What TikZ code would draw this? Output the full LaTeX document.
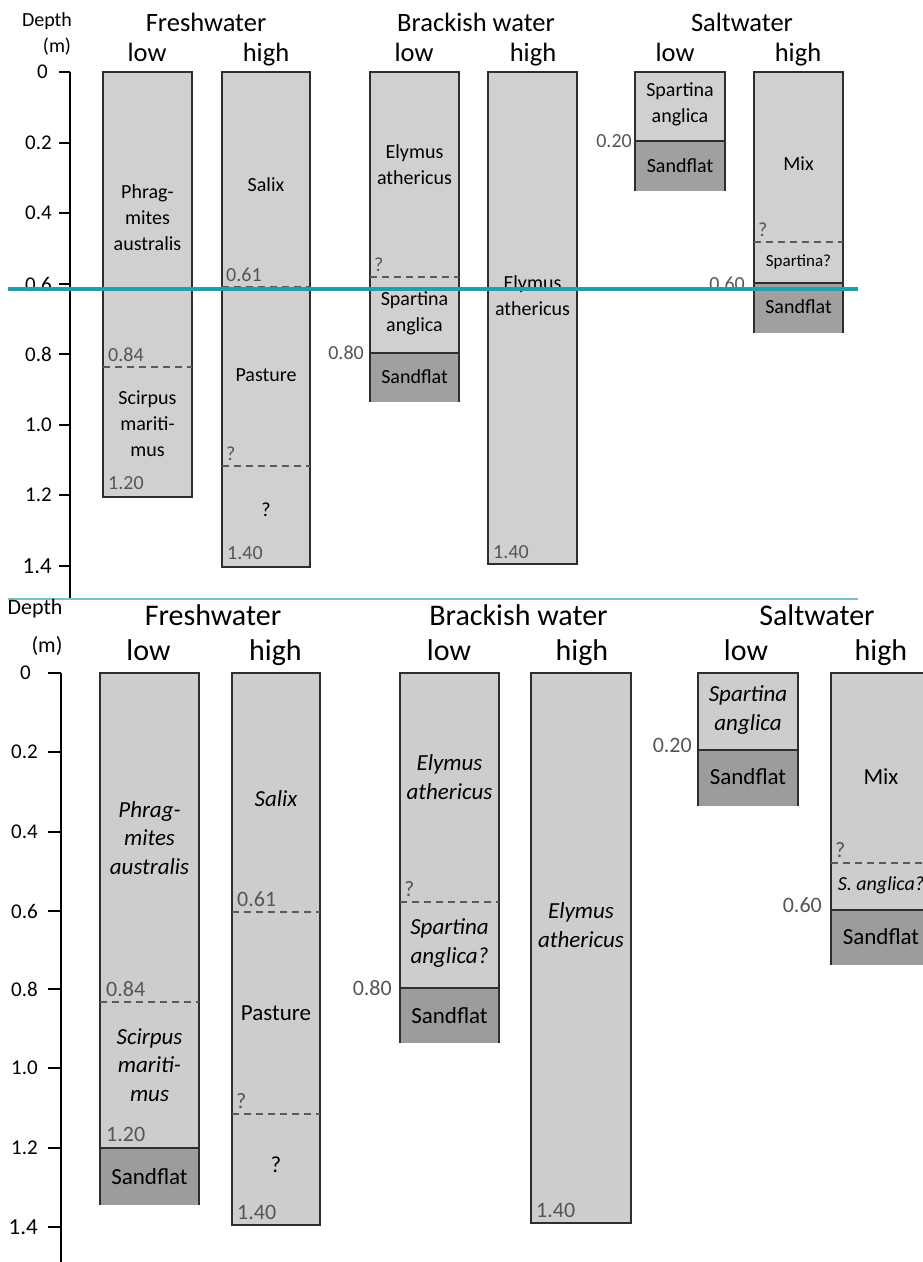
\documentclass[tikz,border=0pt]{standalone}
\usepackage{fontspec}
\setmainfont{Carlito}
\definecolor{lightfill}{HTML}{D0D0D0}
\definecolor{sandfill}{HTML}{A0A0A0}
\definecolor{lightfillb}{HTML}{CDCDCD}
\definecolor{sandfillb}{HTML}{9C9C9C}
\definecolor{boxline}{HTML}{2E2E2E}
\definecolor{dashgray}{HTML}{5A5A5A}
\definecolor{numgray}{HTML}{555555}
\definecolor{tealdark}{HTML}{1FA0AB}
\definecolor{teallight}{HTML}{74C3CB}
\tikzset{
  box/.style={draw=boxline, line width=1.5pt, fill=lightfill},
  boxb/.style={draw=boxline, line width=1.5pt, fill=lightfillb},
  edge/.style={draw=boxline, line width=1.5pt},
  dashln/.style={draw=dashgray, line width=1.2pt, dash pattern=on 7pt off 5pt},
  axisln/.style={draw=black, line width=2pt},
  sp/.style={align=center, inner sep=0pt, font=\fontsize{20}{26}\selectfont},
  spsmall/.style={align=center, inner sep=0pt, font=\fontsize{17}{20}\selectfont},
  spb/.style={align=center, inner sep=0pt, font=\fontsize{23}{28.5}\selectfont\itshape},
  spbup/.style={align=center, inner sep=0pt, font=\fontsize{23}{28.5}\selectfont},
  spbsmall/.style={align=center, inner sep=0pt, font=\fontsize{20}{24}\selectfont\itshape},
  num/.style={inner sep=0pt, text=numgray, font=\fontsize{20}{24}\selectfont},
  numb/.style={inner sep=0pt, text=numgray, font=\fontsize{22}{26}\selectfont},
  tick/.style={inner sep=0pt, font=\fontsize{21}{24}\selectfont},
  hdr/.style={inner sep=0pt, font=\fontsize{26.5}{30}\selectfont},
  hdrb/.style={inner sep=0pt, font=\fontsize{30}{34}\selectfont},
  dep/.style={inner sep=0pt, font=\fontsize{20}{24}\selectfont},
  depb/.style={inner sep=0pt, font=\fontsize{22}{26}\selectfont},
}
\begin{document}
\begin{tikzpicture}[x=1pt,y=-1pt]
\clip (0,0) rectangle (923,1262);
\fill[white] (0,0) rectangle (923,1262);

%================ TOP PANEL ================
% headers
\node[dep,anchor=base] (tdepth) at (47,26) {Depth};
\node[dep,anchor=base] (tm) at (57,52.5) {(m)};
\node[hdr,anchor=base] (tfw) at (206,31.5) {Freshwater};
\node[hdr,anchor=base] (tfwl) at (147,61.5) {low};
\node[hdr,anchor=base] (tfwh) at (266,61.5) {high};
\node[hdr,anchor=base] (tbw) at (476,31.5) {Brackish water};
\node[hdr,anchor=base] (tbwl) at (414,61.5) {low};
\node[hdr,anchor=base] (tbwh) at (533,61.5) {high};
\node[hdr,anchor=base] (tsw) at (742,31.5) {Saltwater};
\node[hdr,anchor=base] (tswl) at (675,61.5) {low};
\node[hdr,anchor=base] (tswh) at (798,61.5) {high};

% axis
\draw[axisln] (70,72) -- (70,600);
\foreach \y/\t/\xx [count=\i] in {72/0/48,143/0.2/52,213/0.4/52,284/0.6/52,354/0.8/52,425/1.0/52,495/1.2/52}{
  \draw[axisln] (59,\y) -- (70,\y);
  \node[tick,anchor=east] (tt\i) at (\xx,\y) {\t};
}
\draw[axisln] (59,566) -- (70,566);
\node[tick,anchor=east,font=\fontsize{23}{26}\selectfont] (tt8) at (52,566) {1.4};

% Freshwater low
\draw[box] (103,72) rectangle (192,497);
\draw[dashln] (103,367) -- (192,367);
\node[sp] (tfwl1) at (147.5,218) {Phrag-\\mites\\australis};
\node[sp] (tfwl2) at (147.5,424) {Scirpus\\mariti-\\mus};
\node[num,anchor=base west] (tn084) at (108,361) {0.84};
\node[num,anchor=base west] (tn120) at (108,489) {1.20};

% Freshwater high
\draw[box] (222,72) rectangle (310,567);
\draw[dashln] (222,287) -- (310,287);
\draw[dashln] (222,466) -- (310,466);
\node[sp] (tfwh1) at (266,185) {Salix};
\node[sp] (tfwh2) at (266,375) {Pasture};
\node[sp] (tfwh3) at (266,510) {?};
\node[num,anchor=base west] (tn061) at (226,281) {0.61};
\node[num,anchor=base west] (tq1) at (226,460) {?};
\node[num,anchor=base west] (tn140a) at (227,559) {1.40};

% Brackish low
\draw[box] (370,72) rectangle (459,353);
\fill[sandfill] (370,353) rectangle (459,402);
\draw[edge] (370,402) -- (370,353) -- (459,353) -- (459,402);
\draw[dashln] (370,277) -- (459,277);
\node[sp] (tbwl1) at (414.5,165) {Elymus\\athericus};
\node[sp] (tbwl2) at (414.5,313) {Spartina\\anglica};
\node[sp] (tbwl3) at (414.5,377) {Sandflat};
\node[num,anchor=base west] (tq2) at (374,271) {?};
\node[num,anchor=east] (tn080) at (364,353) {0.80};

% Brackish high
\draw[box] (488,72) rectangle (577,564);
\node[sp] (tbwh1) at (532.5,296) {Elymus\\athericus};
\node[num,anchor=base west] (tn140b) at (493,558) {1.40};

% Saltwater low
\draw[box] (635,72) rectangle (725,141);
\fill[sandfill] (635,141) rectangle (725,191);
\draw[edge] (635,191) -- (635,141) -- (725,141) -- (725,191);
\node[sp] (tswl1) at (680,104) {Spartina\\anglica};
\node[sp] (tswl2) at (680,166) {Sandflat};
\node[num,anchor=east] (tn020) at (632,141) {0.20};

% Saltwater high
\draw[box] (754,72) rectangle (843,283);
\fill[sandfill] (754,283) rectangle (843,333);
\draw[edge] (754,333) -- (754,283) -- (843,283) -- (843,333);
\draw[dashln] (754,242) -- (843,242);
\node[sp] (tswh1) at (798.5,164) {Mix};
\node[spsmall] (tswh2) at (798.5,262) {Spartina?};
\node[sp] (tswh3) at (798.5,307) {Sandflat};
\node[num,anchor=base west] (tq3) at (758,236) {?};
\node[num,anchor=east] (tn060) at (745,284) {0.60};

% teal lines
\draw[tealdark, line width=3.5pt] (8,289) -- (858,289);
\draw[teallight, line width=2pt] (8,599) -- (858,599);

%================ BOTTOM PANEL ================
\node[depb,anchor=base] (bdepth) at (35,614) {Depth};
\node[depb,anchor=base] (bm) at (47,652) {(m)};
\node[hdrb,anchor=base] (bfw) at (213,625) {Freshwater};
\node[hdrb,anchor=base] (bfwl) at (148.5,660) {low};
\node[hdrb,anchor=base] (bfwh) at (275.5,660) {high};
\node[hdrb,anchor=base] (bbw) at (518.5,625) {Brackish water};
\node[hdrb,anchor=base] (bbwl) at (449,660) {low};
\node[hdrb,anchor=base] (bbwh) at (582,660) {high};
\node[hdrb,anchor=base] (bsw) at (817,625) {Saltwater};
\node[hdrb,anchor=base] (bswl) at (746,660) {low};
\node[hdrb,anchor=base] (bswh) at (881,660) {high};

% axis
\draw[axisln] (61,673) -- (61,1262);
\foreach \y/\t/\xx [count=\i] in {673/0/31,752/0.2/38,832/0.4/38,911/0.6/38,989/0.8/38,1068/1.0/38,1148/1.2/38}{
  \draw[axisln] (48,\y) -- (61,\y);
  \node[tick,anchor=east] (bt\i) at (\xx,\y) {\t};
}
\draw[axisln] (48,1227) -- (61,1227);
\node[tick,anchor=east,font=\fontsize{23}{26}\selectfont] (bt8) at (38,1227) {1.4};

% Freshwater low
\draw[boxb] (100,673) rectangle (199,1148);
\fill[sandfillb] (100,1148) rectangle (199,1205);
\draw[edge] (100,1205) -- (100,1148) -- (199,1148) -- (199,1205);
\draw[dashln] (100,1002) -- (199,1002);
\node[spb] (bfwl1) at (149.5,838) {Phrag-\\mites\\australis};
\node[spb] (bfwl2) at (149.5,1065) {Scirpus\\mariti-\\mus};
\node[spbup] (bfwl3) at (149.5,1177) {Sandflat};
\node[numb,anchor=base west] (bn084) at (106,996) {0.84};
\node[numb,anchor=base west] (bn120) at (106,1141) {1.20};

% Freshwater high
\draw[boxb] (232,673) rectangle (320,1225);
\draw[dashln] (232,912) -- (320,912);
\draw[dashln] (232,1114) -- (320,1114);
\node[spb] (bfwh1) at (276,799) {Salix};
\node[spbup] (bfwh2) at (276,1013) {Pasture};
\node[spbup] (bfwh3) at (276,1165) {?};
\node[numb,anchor=base west] (bn061) at (237,906) {0.61};
\node[numb,anchor=base west] (bq1) at (236,1108) {?};
\node[numb,anchor=base west] (bn140a) at (237,1219) {1.40};

% Brackish low
\draw[boxb] (400,673) rectangle (499,988);
\fill[sandfillb] (400,988) rectangle (499,1043);
\draw[edge] (400,1043) -- (400,988) -- (499,988) -- (499,1043);
\draw[dashln] (400,902) -- (499,902);
\node[spb] (bbwl1) at (449.5,777) {Elymus\\athericus};
\node[spb] (bbwl2) at (449.5,943) {Spartina\\anglica?};
\node[spbup] (bbwl3) at (449.5,1016) {Sandflat};
\node[numb,anchor=base west] (bq2) at (404,896) {?};
\node[numb,anchor=east] (bn080) at (392,988) {0.80};

% Brackish high
\draw[boxb] (531,673) rectangle (631,1223);
\node[spb] (bbwh1) at (581,925) {Elymus\\athericus};
\node[numb,anchor=base west] (bn140b) at (536,1217) {1.40};

% Saltwater low
\draw[boxb] (698,673) rectangle (798,750);
\fill[sandfillb] (698,750) rectangle (798,806);
\draw[edge] (698,806) -- (698,750) -- (798,750) -- (798,806);
\node[spb] (bswl1) at (748,710) {Spartina\\anglica};
\node[spbup] (bswl2) at (748,777) {Sandflat};
\node[numb,anchor=east] (bn020) at (692,745) {0.20};

% Saltwater high
\draw[boxb] (831,673) rectangle (931,910);
\fill[sandfillb] (831,910) rectangle (931,965);
\draw[edge] (831,965) -- (831,910) -- (931,910) -- (931,965);
\draw[dashln] (831,863) -- (931,863);
\node[spbup] (bswh1) at (881,777) {Mix};
\node[spbsmall] (bswh2) at (881,885) {S. anglica?};
\node[spbup] (bswh3) at (881,937) {Sandflat};
\node[numb,anchor=base west] (bq3) at (835,857) {?};
\node[numb,anchor=east] (bn060) at (822,905) {0.60};
\end{tikzpicture}
\end{document}
